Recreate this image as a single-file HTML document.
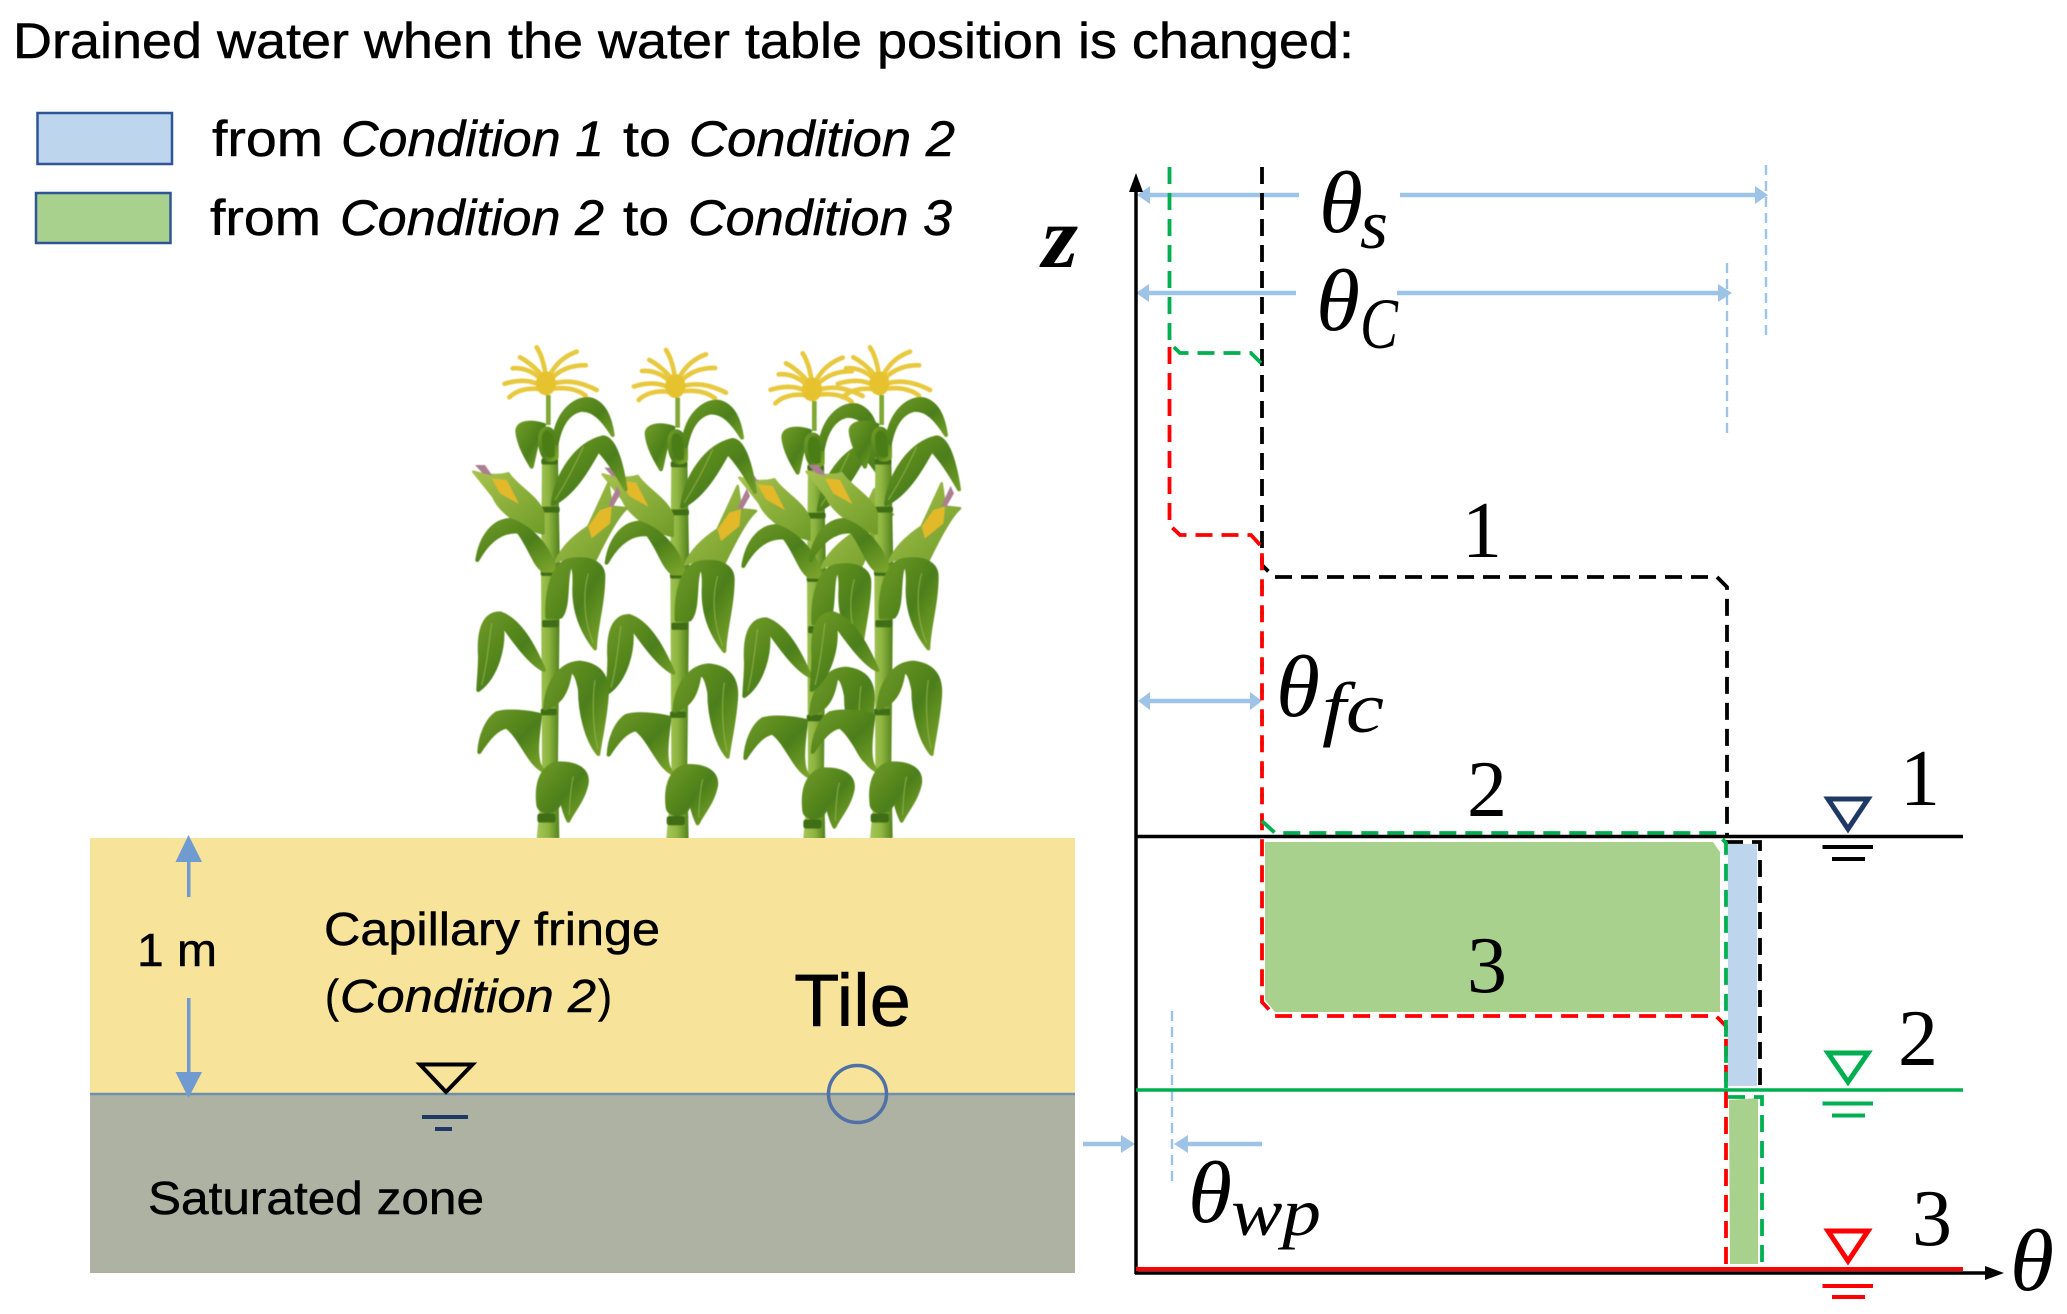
<!DOCTYPE html>
<html><head><meta charset="utf-8"><style>
html,body{margin:0;padding:0;background:#fff}
svg{display:block}
.c{font-family:"Liberation Sans",sans-serif;fill:#000;stroke:#000;stroke-width:.5}
.m{font-family:"Liberation Serif",serif;fill:#000}
.i{font-style:italic}
</style></head><body>
<svg xmlns="http://www.w3.org/2000/svg" width="2067" height="1314" viewBox="0 0 2067 1314">
<defs>
<linearGradient id="lg" x1="0" y1="0" x2="1" y2="1"><stop offset="0" stop-color="#6f9a26"/><stop offset=".55" stop-color="#4c7f1a"/><stop offset="1" stop-color="#7ca52c"/></linearGradient>
<linearGradient id="ll" x1="0" y1="0" x2="1" y2="1"><stop offset="0" stop-color="#a8c24e"/><stop offset="1" stop-color="#6f9c28"/></linearGradient>
<linearGradient id="st" x1="0" y1="0" x2="1" y2="0"><stop offset="0" stop-color="#a6c65a"/><stop offset=".5" stop-color="#8fb540"/><stop offset="1" stop-color="#4e7f1c"/></linearGradient>
<filter id="b" x="-5%" y="-5%" width="110%" height="110%"><feGaussianBlur stdDeviation="1.2"/></filter>
<g id="p">
<!-- tassel -->
<g fill="none" stroke="#e8c83c" stroke-width="14" stroke-linecap="round" stroke-dasharray="7 3">
<path d="M255 175 C215 145 170 150 132 162"/><path d="M255 180 C210 170 170 180 148 202"/>
<path d="M255 160 C225 125 190 112 158 115"/><path d="M255 150 C235 120 205 95 180 82"/>
<path d="M258 150 C255 110 245 75 230 52"/><path d="M262 150 C285 100 315 78 350 65"/>
<path d="M265 155 C300 115 340 105 378 106"/><path d="M265 165 C310 150 350 150 410 180"/>
<path d="M265 178 C310 170 350 175 378 198"/>
</g>
<ellipse cx="258" cy="160" rx="30" ry="36" fill="#e6c22e"/>
<rect x="258" y="195" width="14" height="90" fill="#7fa834"/>
<!-- stem -->
<path d="M246 380H294L300 720L294 1300L298 1525H230L238 1440L246 1300L243 720Z" fill="url(#st)"/>
<g fill="#3f6e14">
<rect x="244" y="386" width="50" height="18" rx="6"/><rect x="244" y="530" width="55" height="18" rx="6"/>
<rect x="242" y="722" width="40" height="16" rx="6"/><rect x="246" y="870" width="50" height="22" rx="6"/>
<rect x="242" y="1136" width="48" height="20" rx="6"/><rect x="232" y="1450" width="55" height="28" rx="8"/>
</g>
<!-- upper leaves -->
<g stroke="url(#lg)" stroke-width="12" stroke-linejoin="round">
<path d="M252 285C205 270 170 280 172 305C176 345 200 385 215 410C225 370 228 340 240 320Z" fill="url(#lg)"/>
<path d="M240 330C238 285 282 280 290 340L290 382C268 398 242 390 240 330Z" fill="#4b7d18"/>
<path d="M285 310C300 240 350 200 392 208C432 220 450 260 458 315C430 270 400 235 360 240C320 250 300 290 290 340Z" fill="url(#lg)"/>
<path d="M278 522C290 430 350 340 430 322C468 325 488 420 497 478C470 430 440 385 415 360C382 420 340 492 278 522Z" fill="url(#lg)"/>
</g>
<!-- left ear -->
<path d="M40 425C100 445 145 430 145 430C170 470 235 500 250 550L250 610C200 600 120 550 100 500Z" fill="url(#ll)" stroke="url(#ll)" stroke-width="8" stroke-linejoin="round"/>
<path d="M95 445L140 450L177 522L120 490Z" fill="#e3b92b"/>
<path d="M45 405L75 405L97 437L68 430Z" fill="#ab7f90"/>
<g stroke="url(#lg)" stroke-width="12" stroke-linejoin="round">
<path d="M282 722C272 650 210 590 150 570C100 572 62 620 52 690C80 640 120 600 175 605C210 650 220 700 250 722Z" fill="url(#lg)"/>
</g>
<!-- right ear -->
<path d="M288 695C310 640 370 600 385 590L445 460L455 530L500 535C470 560 430 640 405 692C370 680 320 680 288 695Z" fill="url(#ll)" stroke="url(#ll)" stroke-width="8" stroke-linejoin="round"/>
<path d="M385 590L420 540L455 530L450 580L395 625Z" fill="#e3b92b"/>
<path d="M445 525L472 468L482 490L458 532Z" fill="#ab7f90"/>
<!-- mid leaves -->
<g stroke="url(#lg)" stroke-width="12" stroke-linejoin="round">
<path d="M262 862C258 780 280 700 330 690C390 680 430 700 430 740C430 820 405 900 405 955C370 910 340 850 343 770C345 722 340 702 330 710C315 740 328 830 302 860Z" fill="url(#lg)"/>
<path d="M252 1020C222 950 180 870 120 850C72 850 55 900 60 980C60 1020 55 1060 55 1080C110 1040 135 950 125 880C160 930 210 1000 252 1020Z" fill="url(#lg)"/>
<path d="M255 1135C260 1060 300 1000 360 998C420 1005 445 1040 440 1100C435 1170 420 1230 415 1272C380 1230 360 1150 360 1080C350 1030 340 1020 330 1030C320 1090 300 1120 255 1135Z" fill="url(#lg)"/>
<path d="M250 1322C215 1295 240 1180 240 1155C200 1145 140 1140 110 1150C80 1170 60 1220 58 1266C85 1225 110 1195 140 1190C185 1225 205 1300 250 1322Z" fill="url(#lg)"/>
<path d="M235 1425C225 1340 260 1300 300 1300C350 1300 385 1320 380 1360C370 1410 340 1440 325 1472C305 1430 300 1390 300 1350L298 1420C288 1452 240 1452 235 1425Z" fill="url(#lg)"/>
</g>
<g fill="none" stroke="#9dbd52" stroke-width="3" opacity=".7">
<path d="M385 730C365 800 375 880 400 940"/><path d="M95 880C85 950 80 1010 65 1065"/>
<path d="M405 1050C395 1120 400 1200 413 1255"/><path d="M340 1340C330 1380 330 1420 328 1455"/>
<path d="M370 350C340 420 310 470 285 510"/>
</g>
</g>
</defs>
<rect width="2067" height="1314" fill="#fff"/>

<!-- heading and legend -->
<text class="c" x="13" y="58" font-size="50" textLength="1341" lengthAdjust="spacingAndGlyphs">Drained water when the water table position is changed:</text>
<rect x="37.5" y="113" width="134.5" height="51" fill="#bdd6ee" stroke="#2f5597" stroke-width="2.5"/>
<rect x="36" y="193" width="134.5" height="50" fill="#a9d18e" stroke="#2f5597" stroke-width="2.5"/>
<text class="c" x="212" y="156" font-size="50" textLength="111" lengthAdjust="spacingAndGlyphs">from</text>
<text class="c i" x="341" y="156" font-size="50" textLength="263" lengthAdjust="spacingAndGlyphs">Condition 1</text>
<text class="c" x="623" y="156" font-size="50" textLength="48" lengthAdjust="spacingAndGlyphs">to</text>
<text class="c i" x="689" y="156" font-size="50" textLength="266" lengthAdjust="spacingAndGlyphs">Condition 2</text>
<text class="c" x="210" y="235" font-size="50" textLength="111" lengthAdjust="spacingAndGlyphs">from</text>
<text class="c i" x="340" y="235" font-size="50" textLength="264" lengthAdjust="spacingAndGlyphs">Condition 2</text>
<text class="c" x="623" y="235" font-size="50" textLength="46" lengthAdjust="spacingAndGlyphs">to</text>
<text class="c i" x="688" y="235" font-size="50" textLength="264" lengthAdjust="spacingAndGlyphs">Condition 3</text>

<!-- corn -->
<g transform="translate(460 330) scale(.33333)" filter="url(#b)">
<use href="#p" transform="translate(798 18)"/>
<use href="#p" transform="translate(1000 0)"/>
<use href="#p" transform="translate(388 8)"/>
<use href="#p"/>
</g>

<!-- soil -->
<rect x="90" y="838" width="985" height="256" fill="#f7e49a"/>
<rect x="90" y="1094" width="985" height="179" fill="#adb2a3"/>
<line x1="90" y1="1094" x2="1075" y2="1094" stroke="#6f8fae" stroke-width="2.5"/>
<g fill="#6f9bd1" stroke="none">
<path d="M188.5 835L202 862H175.5Z"/><rect x="187" y="860" width="3.5" height="37"/>
<rect x="187" y="998" width="3.5" height="76"/><path d="M188.5 1098L202 1072H175.5Z"/>
</g>
<text class="c" x="137" y="966" font-size="46" textLength="80" lengthAdjust="spacingAndGlyphs">1 m</text>
<text class="c" x="324" y="945" font-size="46" textLength="336" lengthAdjust="spacingAndGlyphs">Capillary fringe</text>
<text class="c" x="325" y="1012" font-size="46" textLength="14" lengthAdjust="spacingAndGlyphs">(</text>
<text class="c i" x="340" y="1012" font-size="46" textLength="256" lengthAdjust="spacingAndGlyphs">Condition 2</text>
<text class="c" x="598" y="1012" font-size="46" textLength="14" lengthAdjust="spacingAndGlyphs">)</text>
<text class="c" x="794" y="1026" font-size="74" textLength="117" lengthAdjust="spacingAndGlyphs">Tile</text>
<text class="c" x="148" y="1214" font-size="46" textLength="336" lengthAdjust="spacingAndGlyphs">Saturated zone</text>
<path d="M420 1064.500H472.500L446 1092Z" fill="none" stroke="#000" stroke-width="4"/>
<g stroke="#1f3864" stroke-width="4"><line x1="422" y1="1117" x2="468" y2="1117"/><line x1="435" y1="1129" x2="452" y2="1129"/></g>
<ellipse cx="857.500" cy="1094" rx="29" ry="28.500" fill="none" stroke="#4f71a8" stroke-width="3.500"/>

<!-- green drained regions -->
<path d="M1265 842H1713L1720 852V1012H1275L1265 1000Z" fill="#a9d18e"/>
<rect x="1728" y="844" width="29" height="242" fill="#bdd6ee"/>
<path d="M1729 1100L1758 1098V1264H1730Z" fill="#a9d18e"/>

<!-- light blue guides -->
<g stroke="#9dc3e6" fill="none">
<g stroke-width="2.400" stroke-dasharray="10 6">
<line x1="1766" y1="165" x2="1766" y2="337"/><line x1="1727" y1="263" x2="1727" y2="435"/><line x1="1172" y1="1011" x2="1172" y2="1184"/>
</g>
<g stroke-width="4.500">
<line x1="1145" y1="195" x2="1299" y2="195"/><line x1="1400" y1="195" x2="1760" y2="195"/>
<line x1="1145" y1="293" x2="1296" y2="293"/><line x1="1397" y1="293" x2="1724" y2="293"/>
<line x1="1146" y1="701" x2="1254" y2="701"/>
<line x1="1083" y1="1144" x2="1126" y2="1144"/><line x1="1184" y1="1144" x2="1262" y2="1144"/>
</g>
</g>
<g fill="#9dc3e6">
<path d="M1137 195L1150 186V204Z"/><path d="M1768 195L1755 186V204Z"/>
<path d="M1136 293L1149 284V302Z"/><path d="M1732 293L1718 284V302Z"/>
<path d="M1138 701L1150 692V710Z"/><path d="M1262 701L1250 692V710Z"/>
<path d="M1135 1144L1121 1135V1153Z"/><path d="M1174 1144L1188 1135V1153Z"/>
</g>

<!-- dashed curves -->
<g fill="none" stroke-width="3.800">
<g stroke="#00b050"><path d="M1262 566V821" stroke-dasharray="4 22" stroke-dashoffset="-19"/></g>
<g stroke="#000" stroke-dasharray="17 9">
<path d="M1262 167V565L1274 577H1717L1727 587V836"/>
<path d="M1726 842H1760V1087"/>
</g>
<g stroke="#ff0000" stroke-dasharray="17 9">
<path d="M1169.500 347V525L1180 535H1251L1262 547V1002L1275 1016H1716L1726 1026V1272"/>
</g>
<g stroke="#00b050" stroke-dasharray="17 9">
<path d="M1169.500 167V343L1180 353H1251L1261 363"/>
<path d="M1262 821L1275 833H1717L1726 843V1088"/>
<path d="M1728 1097H1762V1268"/>
</g>
</g>

<!-- axes and water table lines -->
<line x1="1136" y1="186" x2="1136" y2="1274" stroke="#000" stroke-width="3.500"/>
<path d="M1136 173L1143 192H1129Z" fill="#000"/>
<line x1="1135" y1="1273" x2="1990" y2="1273" stroke="#000" stroke-width="3.500"/>
<path d="M2004 1273L1985 1266V1280Z" fill="#000"/>
<line x1="1136" y1="836.500" x2="1963" y2="836.500" stroke="#000" stroke-width="3.500"/>
<line x1="1136" y1="1090" x2="1963" y2="1090" stroke="#00b050" stroke-width="3.500"/>
<line x1="1136" y1="1269" x2="1963" y2="1269" stroke="#ff0000" stroke-width="4"/>

<!-- water table symbols -->
<path d="M1828 799H1868L1848 829Z" fill="none" stroke="#1f3864" stroke-width="5"/>
<g stroke="#000" stroke-width="4"><line x1="1822.500" y1="847" x2="1873" y2="847"/><line x1="1832" y1="859" x2="1865" y2="859"/></g>
<path d="M1828 1053H1868L1848 1082Z" fill="none" stroke="#00b050" stroke-width="5"/>
<g stroke="#00b050" stroke-width="4"><line x1="1822.500" y1="1103.500" x2="1873" y2="1103.500"/><line x1="1832" y1="1115.500" x2="1865" y2="1115.500"/></g>
<path d="M1828 1231H1868L1848 1261Z" fill="none" stroke="#ff0000" stroke-width="5"/>
<g stroke="#ff0000" stroke-width="4"><line x1="1822.500" y1="1286" x2="1873" y2="1286"/><line x1="1832" y1="1297" x2="1865" y2="1297"/></g>

<!-- math labels -->
<text class="m i" x="1042" y="267" font-size="88" font-weight="bold" textLength="36" lengthAdjust="spacingAndGlyphs">z</text>
<text class="m i" x="1319" y="232" font-size="88" textLength="44" lengthAdjust="spacingAndGlyphs">θ</text>
<text class="m i" x="1360" y="248" font-size="70" textLength="28" lengthAdjust="spacingAndGlyphs">s</text>
<text class="m i" x="1316" y="330" font-size="88" textLength="44" lengthAdjust="spacingAndGlyphs">θ</text>
<text class="m i" x="1360" y="348" font-size="72" textLength="38" lengthAdjust="spacingAndGlyphs">C</text>
<text class="m i" x="1276" y="716" font-size="88" textLength="44" lengthAdjust="spacingAndGlyphs">θ</text>
<text class="m i" x="1322" y="732" font-size="72" textLength="62" lengthAdjust="spacingAndGlyphs">fc</text>
<text class="m i" x="1188" y="1222" font-size="88" textLength="44" lengthAdjust="spacingAndGlyphs">θ</text>
<text class="m i" x="1231" y="1235" font-size="68" textLength="90" lengthAdjust="spacingAndGlyphs">wp</text>
<text class="m i" x="2010" y="1290" font-size="88" textLength="44" lengthAdjust="spacingAndGlyphs">θ</text>
<text class="m" x="1462" y="557" font-size="80">1</text>
<text class="m" x="1467" y="816" font-size="80">2</text>
<text class="m" x="1467" y="992" font-size="80">3</text>
<text class="m" x="1900" y="805" font-size="80">1</text>
<text class="m" x="1898" y="1065" font-size="80">2</text>
<text class="m" x="1912" y="1245" font-size="80">3</text>
</svg>
</body></html>
